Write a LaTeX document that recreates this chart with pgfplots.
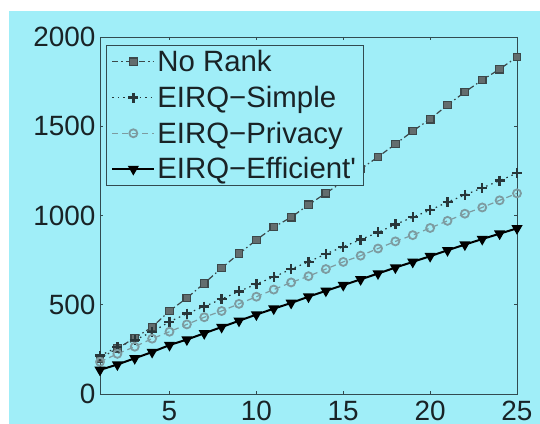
\documentclass[border=0pt]{standalone}
\usepackage{pgfplots}
\pgfplotsset{compat=1.18}
\usepackage{fontspec}
\setmainfont{Liberation Sans}
\definecolor{bgcyan}{RGB}{160,238,248}
\definecolor{axcol}{RGB}{50,75,80}
\definecolor{norank}{RGB}{60,72,74}
\definecolor{simple}{RGB}{40,55,58}
\definecolor{privacy}{RGB}{125,155,160}
\definecolor{txt}{RGB}{25,35,38}
\begin{document}
\begin{tikzpicture}
\fill[bgcyan] (-91bp,-30bp) rectangle (440bp,383bp);
\begin{axis}[
  at={(0,0)}, anchor=south west,
  scale only axis, width=417bp, height=357bp,
  xmin=1, xmax=25, ymin=0, ymax=2000,
  xtick={5,10,15,20,25}, ytick={0,500,1000,1500,2000},
  tick align=inside, tick pos=both, major tick length=3.5bp,
  axis line style={axcol, line width=0.7pt},
  tick style={axcol, line width=0.6pt},
  every tick label/.append style={font=\fontsize{28}{32}\selectfont, text=txt},
  /pgf/number format/assume math mode=true,
  /pgf/number format/set thousands separator={},
  scaled ticks=false,
  xticklabel style={yshift=-4bp},
  yticklabel style={xshift=-1bp},
  legend style={at={(0.0144,0.9776)}, anchor=north west, draw=axcol, line width=0.7pt,
    fill=bgcyan, font=\fontsize{29.5}{32}\selectfont, text=txt, row sep=9bp,
    inner xsep=5bp, inner ysep=3bp},
  legend cell align=left,
  legend image code/.code={\draw[mark repeat=2,mark phase=2,#1] plot coordinates {(0bp,0bp) (21bp,0bp) (42bp,0bp)};},
]
\addplot[norank, line width=1.2pt, dash pattern=on 6pt off 3pt on 1.5pt off 3pt, mark=square*, mark size=3.8bp,
  mark options={solid, draw=norank, fill=norank!80!white, line width=1.2pt}] coordinates {
(1,200) (2,255) (3,314) (4,375) (5,465) (6,538) (7,620) (8,706) (9,786) (10,863)
(11,935) (12,990) (13,1060) (14,1125) (15,1190) (16,1260) (17,1328) (18,1400) (19,1473) (20,1540)
(21,1619) (22,1692) (23,1759) (24,1820) (25,1888)};
\addlegendentry{No Rank}
\addplot[simple, line width=1.2pt, dash pattern=on 1.5pt off 4pt, mark=+, mark size=5bp,
  mark options={solid, line width=2.4pt}] coordinates {
(1,215) (2,262) (3,302) (4,348) (5,405) (6,450) (7,490) (8,532) (9,575) (10,616)
(11,655) (12,700) (13,740) (14,785) (15,825) (16,865) (17,905) (18,950) (19,990) (20,1030)
(21,1075) (22,1115) (23,1155) (24,1195) (25,1238)};
\addlegendentry{EIRQ−Simple}
\addplot[privacy, line width=1.2pt, dash pattern=on 6pt off 4pt, mark=o, mark size=4bp,
  mark options={solid, line width=1.8pt}] coordinates {
(1,180) (2,225) (3,265) (4,310) (5,349) (6,390) (7,430) (8,465) (9,505) (10,545)
(11,585) (12,625) (13,660) (14,700) (15,740) (16,775) (17,815) (18,855) (19,890) (20,930)
(21,970) (22,1010) (23,1045) (24,1085) (25,1124)};
\addlegendentry{EIRQ−Privacy}
\addplot[black, line width=2pt, mark=triangle*, mark size=4.5bp,
  mark options={solid, rotate=180, fill=black}] coordinates {
(1,135) (2,165) (3,200) (4,235) (5,274) (6,305) (7,340) (8,375) (9,410) (10,445)
(11,478) (12,510) (13,545) (14,578) (15,610) (16,642) (17,675) (18,708) (19,740) (20,772)
(21,805) (22,837) (23,868) (24,898) (25,928)};
\addlegendentry{EIRQ−Efficient\textquotesingle}
\end{axis}
\pgfresetboundingbox
\path (-100bp,-30bp) rectangle (440bp,394bp);
\end{tikzpicture}
\end{document}
